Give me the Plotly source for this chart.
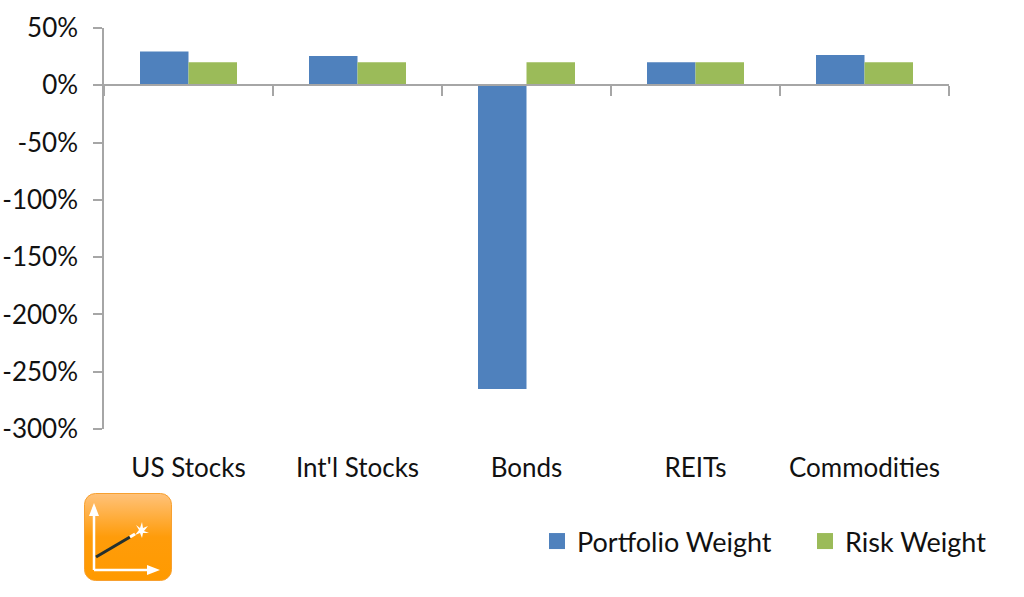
import base64
import plotly.graph_objects as go

categories = ["US Stocks", "Int'l Stocks", "Bonds", "REITs", "Commodities"]
portfolio_weight = [29.5, 25.5, -265, 20, 26.5]
risk_weight = [20, 20, 20, 20, 20]
y_ticks = [50, 0, -50, -100, -150, -200, -250, -300]
y_labels = ["50%", "0%", "-50%", "-100%", "-150%", "-200%", "-250%", "-300%"]
series_names = ["Portfolio Weight", "Risk Weight"]

W, H = 1024, 597
L, R, T, B = 104, 949, 28, 429
GREY = "#A6A6A6"
FONT = "Lato"
TXT = "#111111"
BLUE = "#4F81BD"
GREEN = "#9BBB59"

logo = """<svg xmlns='http://www.w3.org/2000/svg' width='88' height='88' viewBox='0 0 88 88'>
<defs><linearGradient id='g' x1='0' y1='0' x2='0' y2='1'>
<stop offset='0' stop-color='#FFC27A'/><stop offset='0.5' stop-color='#FF9C0A'/><stop offset='1' stop-color='#FF9A00'/>
</linearGradient></defs>
<rect x='0.5' y='0.5' width='87' height='87' rx='11' fill='url(#g)' stroke='#F7A030'/>
<path d='M10 77V14M10 77H70' stroke='#fff' stroke-width='2.5' fill='none'/>
<path d='M10 10L5 23H15Z M76 77L63 72V82Z' fill='#fff'/>
<path d='M12 64L46 44' stroke='#24302f' stroke-width='3'/>
<path d='M46 44L51 41' stroke='#fff' stroke-width='3'/>
<path d='M55 37L52 32L56 35L58 29L59 35L64 33L60 38L65 40L59 40L58 45L56 40L51 42Z' fill='#fff'/>
</svg>"""
logo_uri = "data:image/svg+xml;base64," + base64.b64encode(logo.encode()).decode()


def px(x):
    return (x - L) / (R - L)


def py(y):
    return (B - y) / (B - T)


fig = go.Figure()
fig.add_bar(name=series_names[0], x=categories, y=portfolio_weight, marker_color=BLUE,
            marker_line_width=0, showlegend=False, xaxis="x", yaxis="y")
fig.add_bar(name=series_names[1], x=categories, y=risk_weight, marker_color=GREEN,
            marker_line_width=0, showlegend=False, xaxis="x", yaxis="y")
# transparent carrier trace for the bottom category label axis
fig.add_scatter(x=categories, y=risk_weight, mode="markers", marker_opacity=0, showlegend=False,
                hoverinfo="skip", xaxis="x2", yaxis="y")
# legend keys (bigger square swatches than the bar default), one legend box each
for name, colour, legend_id in zip(series_names, [BLUE, GREEN], ["legend", "legend2"]):
    fig.add_scatter(name=name, x=[None], y=[None], mode="markers",
                    marker=dict(symbol="square", size=16, color=colour),
                    xaxis="x2", yaxis="y", hoverinfo="skip", legend=legend_id)

legend_common = dict(orientation="h", xanchor="left", yanchor="top",
                     font=dict(family=FONT, size=27, color=TXT), bgcolor="rgba(0,0,0,0)",
                     itemsizing="trace")

fig.update_layout(
    width=W, height=H,
    autosize=False,
    margin=dict(l=L, r=W - R, t=T, b=H - B, pad=0, autoexpand=False),
    paper_bgcolor="white", plot_bgcolor="white",
    barmode="group", bargap=0.426, bargroupgap=0,
    font=dict(family=FONT, size=26, color=TXT),
    xaxis=dict(type="category", categoryorder="array", categoryarray=categories,
               anchor="free", position=300 / 350, side="bottom",
               showticklabels=False, ticks="outside", tickson="boundaries",
               ticklen=10, tickwidth=1.5, tickcolor=GREY,
               showline=True, linecolor=GREY, linewidth=1.5, showgrid=False, zeroline=False),
    xaxis2=dict(type="category", categoryorder="array", categoryarray=categories,
                range=[-0.5, 4.5],
                overlaying="x", anchor="free", position=0, side="bottom",
                showline=False, showgrid=False, zeroline=False, ticks="",
                tickfont=dict(family=FONT, size=26, color=TXT), ticklabelstandoff=21),
    yaxis=dict(range=[-300, 50], tickmode="array", tickvals=y_ticks, ticktext=y_labels,
               ticks="outside", ticklen=9, tickwidth=1.5, tickcolor=GREY,
               showline=True, linecolor=GREY, linewidth=1.5, showgrid=False, zeroline=False,
               tickfont=dict(family=FONT, size=26, color=TXT), ticklabelstandoff=10),
    legend=dict(x=px(537), y=py(517), **legend_common),
    legend2=dict(x=px(805), y=py(517), **legend_common),
    images=[dict(source=logo_uri, xref="paper", yref="paper", x=px(84), y=py(493),
                 sizex=88 / (R - L), sizey=88 / (B - T), xanchor="left", yanchor="top",
                 sizing="stretch", layer="above")],
    showlegend=True,
)
fig.write_html("out.html", config=dict(displayModeBar=False),
               post_script="document.body.style.margin='0';document.documentElement.style.overflow='hidden';")
